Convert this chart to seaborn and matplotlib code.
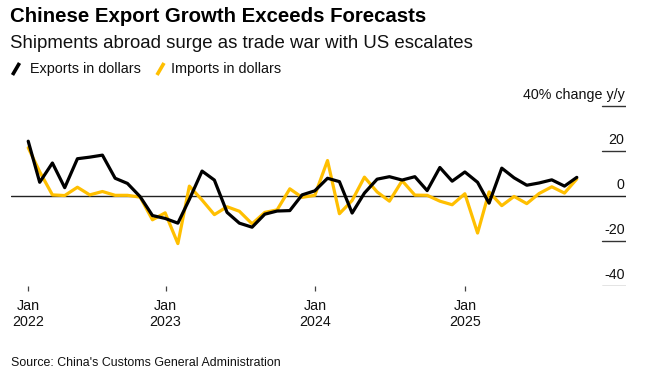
import matplotlib
matplotlib.use("Agg")
import matplotlib.pyplot as plt
from matplotlib.lines import Line2D
import seaborn as sns
import pandas as pd

# ---- data (y/y % change, monthly, Jan 2022 - Sep 2025) ----
months = pd.date_range("2022-01-31", periods=45, freq="ME")
exports = [24.4, 6.1, 14.7, 3.7, 16.6, 17.3, 18.2, 7.9, 5.6, -0.3, -8.7, -10.0,
           -12.1, -1.5, 11.1, 7.1, -7.3, -12.1, -13.9, -8.1, -6.7, -6.5, 0.5, 2.3,
           7.9, 6.4, -7.6, 1.3, 7.5, 8.6, 7.1, 8.6, 2.4, 12.7, 6.6,
           10.7, 6.1, -3.2, 12.4, 8.1, 4.8, 5.8, 7.2, 4.4, 8.3]
imports = [21.5, 10.8, 0.5, 0.2, 3.9, 0.5, 2.0, 0.3, 0.3, -0.5, -10.6, -7.5,
           -21.2, 4.4, -1.8, -8.3, -4.8, -6.8, -12.4, -7.3, -6.2, 3.2, -0.6, 0.3,
           15.8, -7.9, -2.0, 8.4, 1.8, -2.3, 6.8, 0.4, 0.3, -2.3, -3.9,
           1.0, -16.5, 1.8, -4.3, -0.2, -3.4, 1.1, 4.1, 1.3, 7.6]
series_names = ["Exports in dollars", "Imports in dollars"]
tick_dates = pd.to_datetime(["2022-01-31", "2023-01-01", "2024-01-01", "2025-01-01"])
tick_labels = ["Jan\n2022", "Jan\n2023", "Jan\n2024", "Jan\n2025"]
y_ticks = [40, 20, 0, -20, -40]
y_tick_labels = ["40% change y/y", "20", "0", "-20", "-40"]

df = pd.DataFrame({
    "date": list(months) * 2,
    "value": exports + imports,
    "series": [series_names[0]] * len(exports) + [series_names[1]] * len(imports),
})

BLACK = "#000000"
YELLOW = "#FFBF00"
FONT = ["Liberation Sans", "DejaVu Sans"]

sns.set_theme(style="white")
plt.rcParams["font.family"] = FONT

W, H = 657, 375
fig = plt.figure(figsize=(W / 100, H / 100), dpi=100)
left_px, right_px = 11, 626
bottom_px, top_px = 285.8, 101.7
ax = fig.add_axes([left_px / W, 1 - bottom_px / H, (right_px - left_px) / W, (bottom_px - top_px) / H])

# zero line
ax.axhline(0, color="#222222", lw=1.0, zorder=1)
# right-side tick segments
for v in y_ticks:
    if v != 0:
        ax.axhline(v, xmin=(602 - left_px) / (right_px - left_px), xmax=1.0,
                   color="#333333" if v != -40 else "#777777", lw=1.0, zorder=1)

sns.lineplot(data=df, x="date", y="value", hue="series",
             palette={series_names[0]: BLACK, series_names[1]: YELLOW},
             hue_order=[series_names[1], series_names[0]],
             linewidth=2.3, legend=False, ax=ax, zorder=3)

ax.set_xlim(pd.Timestamp("2021-12-20"), pd.Timestamp("2026-01-28"))
ax.set_ylim(-40, 42)
ax.set_xlabel("")
ax.set_ylabel("")
for s in ax.spines.values():
    s.set_visible(False)
ax.set_yticks([])
ax.set_xticks(tick_dates)
ax.set_xticklabels(tick_labels, fontsize=10.3, color="#111111", linespacing=1.2)
ax.tick_params(axis="x", which="major", bottom=True, length=3.5, width=0.9, color="#444444",
               direction="out", pad=6)
ax.grid(False)

for v, lab in zip(y_ticks, y_tick_labels):
    ax.annotate(lab, xy=(1.0, v), xycoords=("axes fraction", "data"),
                xytext=(-1, 5), textcoords="offset points",
                ha="right", va="baseline", fontsize=10.3, color="#111111")

# titles
fig.text(10 / W, 1 - 17 / H, "Chinese Export Growth Exceeds Forecasts",
         fontsize=14.7, fontweight="bold", ha="left", va="center", color="#000000")
fig.text(10 / W, 1 - 43 / H, "Shipments abroad surge as trade war with US escalates",
         fontsize=13.4, ha="left", va="center", color="#111111")

# legend
ly = 1 - 69 / H
for (x0, x1, col, name, tx) in [(12.5, 19.5, BLACK, series_names[0], 30),
                                (157, 164, YELLOW, series_names[1], 171)]:
    fig.add_artist(Line2D([x0 / W, x1 / W], [ly - 6 / H, ly + 6 / H], color=col, lw=2.6,
                          solid_capstyle="butt", transform=fig.transFigure))
    fig.text(tx / W, ly, name, fontsize=10.4, ha="left", va="center", color="#111111")

fig.text(11 / W, 1 - 363 / H, "Source: China's Customs General Administration",
         fontsize=8.9, ha="left", va="center", color="#111111")

fig.savefig("out.png", dpi=100)
